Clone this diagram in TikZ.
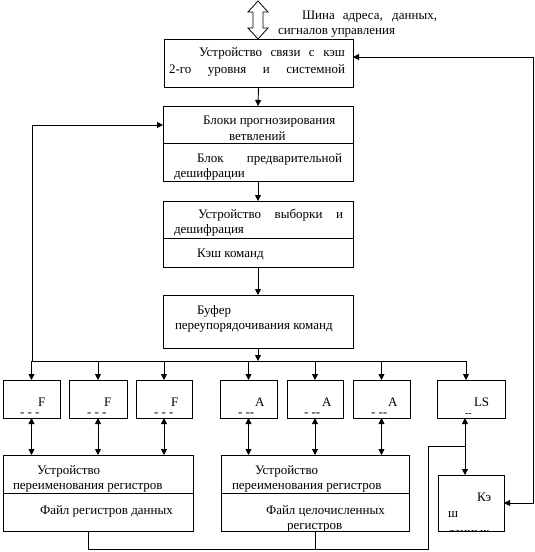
\documentclass[tikz,border=0pt]{standalone}
\usepackage{fontspec}
\setmainfont{Liberation Serif}
\usetikzlibrary{arrows.meta}
\begin{document}
\begin{tikzpicture}[x=1pt,y=-1pt,
  box/.style={draw,line width=0.9pt,rectangle,inner sep=0pt,outer sep=0pt,anchor=north west},
  lbl/.style={anchor=base west,inner sep=0pt,outer sep=0pt,font=\fontsize{13}{15}\selectfont},
  conn/.style={line width=0.9pt},
  arr/.style={conn,-{Triangle[length=6pt,width=6pt]}},
  darr/.style={conn,{Triangle[length=6pt,width=6pt]}-{Triangle[length=6pt,width=6pt]}}]
\useasboundingbox (0,0) rectangle (535,552);
% big hollow bus arrow
\draw[line width=0.8pt,fill=white] (258,1) -- (268,12) -- (263,12) -- (263,28) -- (268,28) -- (258,39)
  -- (248,28) -- (253,28) -- (253,12) -- (248,12) -- cycle;
% boxes
\node[box,minimum width=189pt,minimum height=48pt] (b1) at (164,39) {};
\node[box,minimum width=190pt,minimum height=75pt] (b2) at (163,106) {};
\node[box,minimum width=190pt,minimum height=66pt] (b3) at (163,201) {};
\node[box,minimum width=190pt,minimum height=53pt] (b4) at (163,295) {};
\node[box,minimum width=57pt,minimum height=38pt] (s1) at (3,380) {};
\node[box,minimum width=58pt,minimum height=38pt] (s2) at (69,380) {};
\node[box,minimum width=56pt,minimum height=38pt] (s3) at (136,380) {};
\node[box,minimum width=57pt,minimum height=38pt] (s4) at (220,380) {};
\node[box,minimum width=56pt,minimum height=38pt] (s5) at (287,380) {};
\node[box,minimum width=57pt,minimum height=38pt] (s6) at (353,380) {};
\node[box,minimum width=68pt,minimum height=38pt] (s7) at (437,380) {};
\node[box,minimum width=190pt,minimum height=76pt] (B1) at (3,455) {};
\node[box,minimum width=188pt,minimum height=76pt] (B2) at (221,455) {};
\node[box,minimum width=66pt,minimum height=56pt] (K) at (438,475) {};
% dividers
\draw[conn] (163,143) -- (353,143);
\draw[conn] (163,238) -- (353,238);
\draw[conn] (3,493) -- (193,493);
\draw[conn] (221,493) -- (409,493);
% texts
\node[lbl] (tbusA) at (302,19) {\makebox[135pt][s]{Шина адреса, данных,}};
\node[lbl] (tbusB) at (278,34) {сигналов управления};
\node[lbl] (t1a) at (199,56) {\makebox[146pt][s]{Устройство связи с кэш}};
\node[lbl] (t1b) at (169,73) {\makebox[176pt][s]{2-го уровня и системной}};
\node[lbl] (t2a) at (203,124) {Блоки прогнозирования};
\node[lbl] (t2b) at (229,140) {ветвлений};
\node[lbl] (t2c) at (197,162) {\makebox[145pt][s]{Блок предварительной}};
\begin{scope}
\clip (163,143) rectangle (353,181);
\node[lbl] (t2d) at (174,177) {дешифрации};
\end{scope}
\node[lbl] (t3a) at (198,218) {\makebox[145pt][s]{Устройство выборки и}};
\begin{scope}
\clip (163,201) rectangle (353,238);
\node[lbl] (t3b) at (174,233) {дешифрация};
\end{scope}
\node[lbl] (t3c) at (197,257) {Кэш команд};
\node[lbl] (t4a) at (197,314) {Буфер};
\node[lbl] (t4b) at (175,329) {переупорядочивания команд};
% small boxes text
\node[lbl] (f1) at (38,406) {F};
\node[lbl] (f2) at (104,406) {F};
\node[lbl] (f3) at (171,406) {F};
\node[lbl] (a1) at (255,406) {A};
\node[lbl] (a2) at (322,406) {A};
\node[lbl] (a3) at (388,406) {A};
\node[lbl] (ls) at (474,406) {LS};
\node[lbl] (d1) at (20,416) {- - -};
\node[lbl] (d2) at (87,416) {- - -};
\node[lbl] (d3) at (154,416) {- - -};
\node[lbl] (d4) at (238,416) {- -{}-};
\node[lbl] (d5) at (304,416) {- -{}-};
\node[lbl] (d6) at (371,416) {- -{}-};
\node[lbl,font=\fontsize{10}{11}\selectfont] (d7) at (465,416) {-{}-};
% big boxes text
\node[lbl] (u1a) at (37,474) {Устройство};
\begin{scope}
\clip (3,455) rectangle (193,493);
\node[lbl] (u1b) at (13,489) {переименования регистров};
\end{scope}
\node[lbl] (u1c) at (40,514) {Файл регистров данных};
\node[lbl] (u2a) at (255,474) {Устройство};
\begin{scope}
\clip (221,455) rectangle (409,493);
\node[lbl] (u2b) at (232,489) {переименования регистров};
\end{scope}
\node[lbl] (u2c) at (266,514) {Файл целочисленных};
\begin{scope}
\clip (221,493) rectangle (409,531);
\node[lbl] (u2d) at (287,529) {регистров};
\end{scope}
\node[lbl] (k1) at (477,501) {Кэ};
\node[lbl] (k2) at (448,517) {ш};
\begin{scope}
\clip (438,475) rectangle (504,531);
\node[lbl] (k3) at (448,536) {данных};
\end{scope}
% connectors
\draw[arr] (b1.south) -- (b2.north);
\draw[arr] (b2.south) -- (b3.north);
\draw[arr] (b3.south) -- (b4.north);
\coordinate (busL) at (32,361);
\coordinate (busR) at (466,361);
\coordinate (lft) at (32,125);
\draw[arr] (b4.south) -- (b4.south |- busL);
\draw[conn] (busL) -- (busR);
\draw[arr] (busL) -- (lft) -- (lft -| b2.west);
\foreach \s in {s1,s2,s3,s4,s5,s6}{
  \draw[arr] (\s.north |- busL) -- (\s.north);
}
\draw[arr] (busR) -- (busR |- s7.north);
\foreach \s/\t in {s1/B1,s2/B1,s3/B1,s4/B2,s5/B2,s6/B2}{
  \draw[darr] (\s.south) -- (\s.south |- \t.north);
}
\coordinate (lsx) at (465,446);
\coordinate (cL) at (428,446);
\coordinate (cB) at (428,549);
\coordinate (j1) at (88,549);
\coordinate (j2) at (315,549);
\draw[darr] (lsx |- s7.south) -- (lsx |- K.north);
\draw[conn] (lsx) -- (cL) -- (cB) -- (j1) -- (j1 |- B1.south);
\draw[conn] (j2) -- (j2 |- B2.south);
\coordinate (rc1) at (533,57);
\coordinate (rc2) at (533,503);
\draw[darr] (rc2 -| K.east) -- (rc2) -- (rc1) -- (rc1 -| b1.east);
\end{tikzpicture}
\end{document}
